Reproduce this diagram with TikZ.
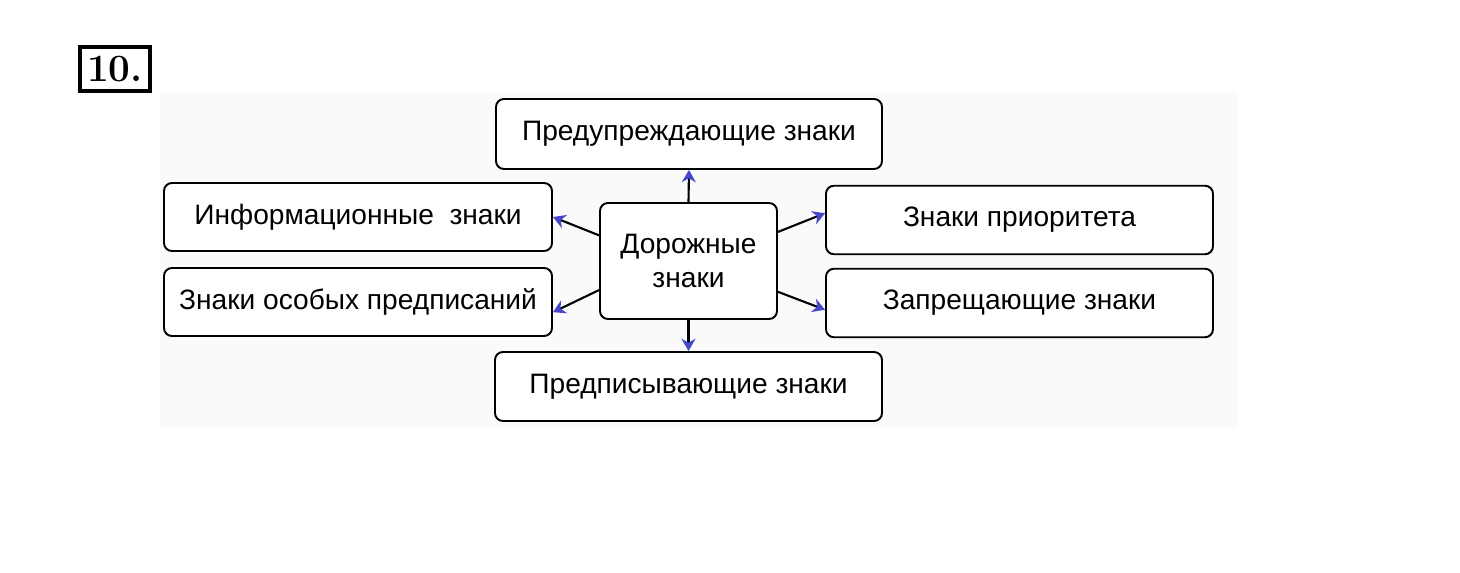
\documentclass[tikz,border=0pt]{standalone}
\usepackage{fontspec}
\setmainfont{Liberation Sans}
\newfontfamily\numfont{Latin Modern Roman}
\usetikzlibrary{arrows.meta, positioning}
\definecolor{pen}{RGB}{70,70,200}
\tikzstyle{block} = [draw, line width=1.1pt, fill=white, rectangle, rounded corners=0.16cm,
    minimum width=7.74cm, minimum height=1.37cm, font=\fontsize{16}{19}\selectfont]
\tikzstyle{link} = [line width=1.2pt, -{Stealth[length=7pt, width=8pt, color=pen]}]

\begin{document}
\begin{tikzpicture}[>=Stealth]
    \useasboundingbox (0,0) rectangle (29.2,11.46);
    \fill [black!2] (3.2,2.9) rectangle (24.76,9.62);
    \node [draw, line width=2pt, inner sep=0pt, minimum width=1.40cm, minimum height=0.88cm,
        font=\numfont\bfseries\fontsize{22}{24}\selectfont] (num) at (2.30,10.08) {10.};
    \node [block, minimum width=3.54cm, minimum height=2.32cm, align=center] (dz) at (13.77,6.24) {Дорожные\\знаки};
    \node [block, minimum width=7.72cm, minimum height=1.40cm] (warn) at (13.78,8.78) {Предупреждающие знаки};
    \node [block, minimum width=7.76cm, minimum height=1.36cm] (info) at (7.16,7.12) {Информационные\ \ знаки};
    \node [block, minimum width=7.76cm, minimum height=1.36cm] (osob) at (7.16,5.42) {Знаки особых предписаний};
    \node [block] (prio) at (20.39,7.06) {Знаки приоритета};
    \node [block] (zapr) at (20.39,5.40) {Запрещающие знаки};
    \node [block, minimum height=1.38cm] (predp) at (13.77,3.73) {Предписывающие знаки};
    \draw [link] (dz.north) -- (warn.south);
    \draw [link] (dz.south) -- (predp.north);
    \draw [link] (dz.164) -- (info.east);
    \draw [link] (dz.198) -- (osob.-3);
    \draw [link] (dz.18) -- (prio.178);
    \draw [link] (dz.341) -- (zapr.182);
\end{tikzpicture}
\end{document}
